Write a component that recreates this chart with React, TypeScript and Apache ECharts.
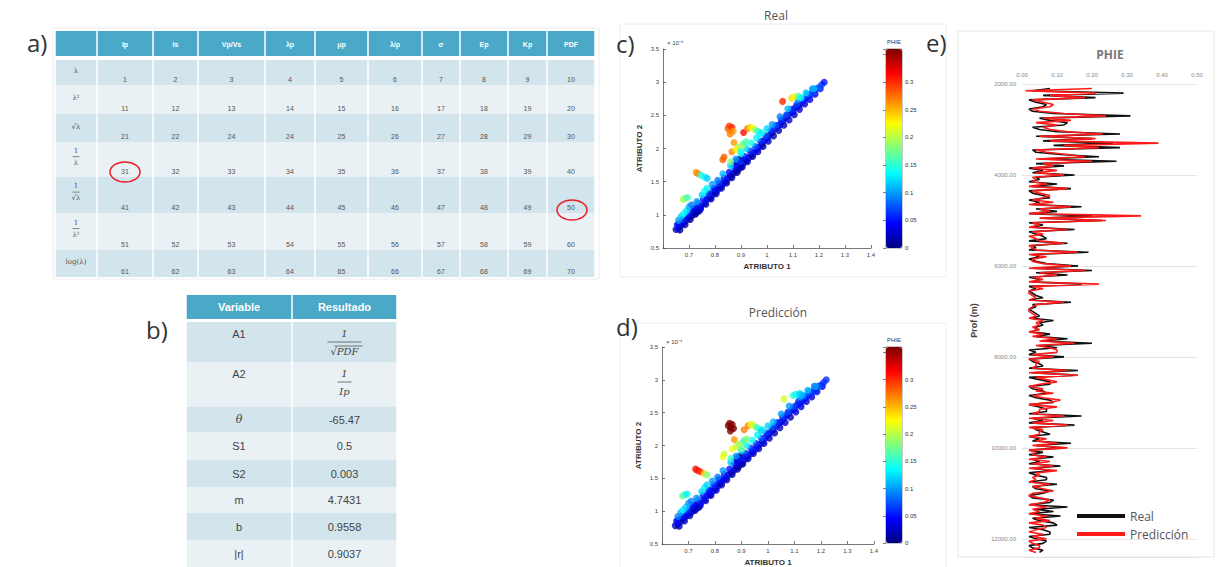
import React, { useEffect, useRef } from "react";
import * as echarts from "echarts";

// ---------------- DATA ----------------
const tableAHeaders = ["Ip", "Is", "Vp/Vs", "λp", "μp", "λ/ρ", "σ", "Ep", "Kp", "PDF"];
const tableARowLabels = ["λ", "λ²", "√λ", "1/λ", "1/√λ", "1/λ²", "log(λ)"];
const tableAValues = [
  [1, 2, 3, 4, 5, 6, 7, 8, 9, 10],
  [11, 12, 13, 14, 15, 16, 17, 18, 19, 20],
  [21, 22, 24, 24, 25, 26, 27, 28, 29, 30],
  [31, 32, 33, 34, 35, 36, 37, 38, 39, 40],
  [41, 42, 43, 44, 45, 46, 47, 48, 49, 50],
  [51, 52, 53, 54, 55, 56, 57, 58, 59, 60],
  [61, 62, 63, 64, 65, 66, 67, 68, 69, 70],
];
const tableBHeaders = ["Variable", "Resultado"];
const tableBVars = ["A1", "A2", "θ", "S1", "S2", "m", "b", "|r|"];
const tableBResults = ["1/√PDF", "1/Ip", "-65.47", "0.5", "0.003", "4.7431", "0.9558", "0.9037"];

// scatter samples: [ATRIBUTO 1, ATRIBUTO 2 (x1e-4), PHIE real, PHIE predicción]
const blueLower = [
  [0.665, 0.77, 0.01, 0.01], [0.685, 0.85, 0.01, 0.02], [0.705, 0.93, 0.0, 0.01], [0.725, 1.01, 0.0, 0.01],
  [0.745, 1.09, 0.01, 0.01], [0.765, 1.16, 0.01, 0.02], [0.785, 1.24, 0.02, 0.01], [0.805, 1.32, 0.01, 0.02],
  [0.825, 1.4, 0.02, 0.02], [0.845, 1.48, 0.01, 0.02], [0.865, 1.56, 0.01, 0.01], [0.885, 1.64, 0.0, 0.01],
  [0.905, 1.72, 0.01, 0.01], [0.925, 1.8, 0.02, 0.02], [0.945, 1.88, 0.01, 0.02], [0.965, 1.95, 0.02, 0.02],
  [0.985, 2.03, 0.02, 0.03], [1.005, 2.11, 0.02, 0.02], [1.025, 2.19, 0.01, 0.02], [1.045, 2.27, 0.02, 0.02],
  [1.065, 2.35, 0.02, 0.03], [1.085, 2.43, 0.03, 0.02], [1.105, 2.51, 0.02, 0.03], [1.125, 2.59, 0.03, 0.03],
  [1.145, 2.67, 0.03, 0.03], [1.165, 2.74, 0.04, 0.03], [1.185, 2.82, 0.04, 0.04], [1.205, 2.9, 0.05, 0.04],
];
const navyClusters = [
  [0.72, 1.05, 0.0, 0.0], [0.73, 1.1, 0.01, 0.0], [0.74, 1.12, 0.0, 0.01], [0.87, 1.76, 0.02, 0.02],
  [0.88, 1.8, 0.01, 0.01], [0.89, 1.83, 0.0, 0.01], [0.9, 1.85, 0.01, 0.0],
];
const blueBand = [
  [0.65, 0.78, 0.02, 0.02], [0.66, 0.8, 0.03, 0.03], [0.66, 0.86, 0.05, 0.04], [0.67, 0.84, 0.02, 0.03],
  [0.68, 0.88, 0.03, 0.02], [0.68, 0.93, 0.06, 0.05], [0.69, 0.92, 0.02, 0.03], [0.7, 0.96, 0.03, 0.04],
  [0.7, 1.02, 0.07, 0.06], [0.71, 0.98, 0.01, 0.02], [0.72, 1.02, 0.02, 0.03], [0.72, 1.08, 0.06, 0.05],
  [0.73, 1.04, 0.01, 0.02], [0.74, 1.06, 0.02, 0.02], [0.745, 1.12, 0.04, 0.05], [0.76, 1.18, 0.03, 0.03],
  [0.77, 1.24, 0.04, 0.04], [0.78, 1.25, 0.02, 0.03], [0.78, 1.32, 0.06, 0.06], [0.79, 1.3, 0.03, 0.04],
  [0.8, 1.34, 0.02, 0.03], [0.8, 1.4, 0.07, 0.06], [0.81, 1.38, 0.03, 0.03], [0.82, 1.42, 0.02, 0.02],
  [0.82, 1.48, 0.06, 0.05], [0.83, 1.46, 0.03, 0.04], [0.84, 1.5, 0.02, 0.03], [0.85, 1.55, 0.03, 0.03],
  [0.86, 1.58, 0.02, 0.02], [0.87, 1.62, 0.01, 0.02], [0.88, 1.66, 0.02, 0.02], [0.89, 1.68, 0.01, 0.01],
  [0.89, 1.74, 0.02, 0.03], [0.9, 1.72, 0.02, 0.02], [0.91, 1.78, 0.03, 0.03], [0.92, 1.82, 0.02, 0.03],
  [0.93, 1.86, 0.03, 0.03], [0.94, 1.9, 0.02, 0.03], [0.95, 1.94, 0.03, 0.04], [0.96, 1.98, 0.04, 0.04],
  [0.97, 2.02, 0.03, 0.03], [0.98, 2.06, 0.02, 0.03], [0.99, 2.12, 0.03, 0.04], [1.0, 2.16, 0.04, 0.04],
  [1.01, 2.2, 0.03, 0.03], [1.02, 2.24, 0.02, 0.03], [1.03, 2.3, 0.03, 0.04], [1.04, 2.34, 0.04, 0.04],
  [1.05, 2.36, 0.03, 0.03], [1.06, 2.42, 0.02, 0.03], [1.07, 2.46, 0.03, 0.04], [1.08, 2.5, 0.02, 0.03],
  [1.09, 2.54, 0.03, 0.04], [1.1, 2.56, 0.04, 0.04], [1.11, 2.62, 0.03, 0.04], [1.12, 2.64, 0.04, 0.05],
  [1.13, 2.68, 0.03, 0.04], [1.14, 2.72, 0.05, 0.05], [1.15, 2.76, 0.04, 0.05], [1.16, 2.8, 0.05, 0.06],
  [1.17, 2.82, 0.06, 0.06], [1.18, 2.86, 0.07, 0.06], [1.19, 2.9, 0.06, 0.07], [1.2, 2.92, 0.08, 0.07],
  [1.21, 2.96, 0.07, 0.06], [1.22, 3.0, 0.05, 0.06],
];
const blueUpper = [
  [0.655, 0.85, 0.05, 0.05], [0.675, 0.93, 0.06, 0.05], [0.695, 1.01, 0.05, 0.06], [0.715, 1.09, 0.04, 0.05],
  [0.735, 1.17, 0.06, 0.06], [0.755, 1.24, 0.05, 0.05], [0.775, 1.32, 0.06, 0.05], [0.795, 1.4, 0.05, 0.06],
  [0.815, 1.48, 0.06, 0.05], [0.835, 1.56, 0.05, 0.05], [0.855, 1.64, 0.04, 0.05], [0.875, 1.72, 0.05, 0.04],
  [0.895, 1.8, 0.06, 0.05], [0.915, 1.88, 0.05, 0.06], [0.935, 1.96, 0.06, 0.06], [0.955, 2.03, 0.07, 0.06],
  [0.975, 2.11, 0.06, 0.07], [0.995, 2.19, 0.07, 0.06], [1.015, 2.27, 0.06, 0.07], [1.035, 2.35, 0.07, 0.06],
  [1.055, 2.43, 0.06, 0.06], [1.075, 2.51, 0.07, 0.07], [1.095, 2.59, 0.06, 0.07], [1.115, 2.67, 0.07, 0.06],
  [1.135, 2.75, 0.08, 0.07], [1.155, 2.82, 0.08, 0.08], [1.175, 2.9, 0.09, 0.08],
];
const cyanBand = [
  [0.66, 0.92, 0.1, 0.09], [0.67, 0.98, 0.12, 0.11], [0.68, 1.02, 0.14, 0.13], [0.69, 1.06, 0.13, 0.12],
  [0.7, 1.12, 0.11, 0.1], [0.71, 1.15, 0.09, 0.09], [0.73, 1.2, 0.1, 0.1], [0.75, 1.3, 0.12, 0.12],
  [0.76, 1.36, 0.14, 0.13], [0.77, 1.4, 0.13, 0.12], [0.79, 1.46, 0.1, 0.1], [0.81, 1.52, 0.09, 0.09],
  [0.83, 1.62, 0.11, 0.1], [0.86, 1.74, 0.12, 0.11], [0.88, 1.84, 0.1, 0.1], [0.9, 1.92, 0.13, 0.12],
  [0.92, 2.0, 0.12, 0.13], [0.94, 2.08, 0.14, 0.14], [0.96, 2.16, 0.13, 0.13], [0.98, 2.24, 0.15, 0.14],
  [1.0, 2.3, 0.12, 0.12], [1.02, 2.36, 0.1, 0.11], [1.05, 2.48, 0.09, 0.1], [1.08, 2.6, 0.11, 0.1],
  [1.12, 2.74, 0.1, 0.1], [1.15, 2.84, 0.12, 0.11], [1.18, 2.9, 0.11, 0.1],
];
const warmPoints = [
  [0.677, 1.23, 0.2, 0.17], [0.685, 1.25, 0.18, 0.16], [0.695, 1.26, 0.16, 0.13], [0.727, 1.64, 0.26, 0.31],
  [0.735, 1.62, 0.27, 0.31], [0.745, 1.6, 0.15, 0.3], [0.76, 1.57, 0.13, 0.24], [0.77, 1.55, 0.12, 0.18],
  [0.83, 1.83, 0.28, 0.22], [0.835, 1.87, 0.28, 0.21], [0.86, 1.8, 0.18, 0.15], [0.865, 1.95, 0.27, 0.22],
  [0.873, 2.09, 0.26, 0.26], [0.905, 2.05, 0.21, 0.17], [0.91, 2.08, 0.17, 0.16], [0.85, 2.3, 0.28, 0.37],
  [0.855, 2.34, 0.29, 0.38], [0.86, 2.27, 0.27, 0.36], [0.865, 2.32, 0.3, 0.38], [0.87, 2.26, 0.26, 0.37],
  [0.858, 2.22, 0.27, 0.36], [0.91, 2.24, 0.31, 0.27], [0.925, 2.3, 0.27, 0.27], [0.935, 2.32, 0.24, 0.23],
  [0.945, 2.31, 0.22, 0.21], [0.955, 2.28, 0.19, 0.17], [0.965, 2.26, 0.15, 0.15], [0.975, 2.22, 0.13, 0.12],
  [1.06, 2.71, 0.3, 0.21], [1.095, 2.76, 0.24, 0.15], [1.105, 2.78, 0.22, 0.14], [1.12, 2.79, 0.17, 0.12],
  [1.13, 2.77, 0.14, 0.11], [0.89, 2.02, 0.19, 0.19], [0.92, 2.1, 0.16, 0.18], [0.88, 1.98, 0.23, 0.2],
  [0.9, 1.95, 0.14, 0.18],
];

// PHIE log, sampled every 50 m starting at 2100 m
const logDepthStart = 2100;
const logDepthStep = 50;
const phieReal = [
  0.08, 0.03, 0.29, 0.06, 0.21, 0.02, 0.04, 0.07, 0.06, 0.02, 0.03, 0.09, 0.31, 0.05, 0.08, 0.13, 0.12, 0.03, 0.05, 0.1,
  0.28, 0.04, 0.2, 0.06, 0.26, 0.09, 0.28, 0.03, 0.04, 0.11, 0.22, 0.05, 0.27, 0.04, 0.12, 0.02, 0.06, 0.03, 0.15, 0.04,
  0.05, 0.02, 0.1, 0.03, 0.14, 0.02, 0.03, 0.06, 0.08, 0.02, 0.05, 0.03, 0.17, 0.04, 0.1, 0.02, 0.2, 0.06, 0.23, 0.02,
  0.06, 0.03, 0.15, 0.02, 0.04, 0.06, 0.07, 0.02, 0.13, 0.03, 0.04, 0.02, 0.19, 0.03, 0.05, 0.02, 0.04, 0.07, 0.16, 0.03,
  0.2, 0.04, 0.13, 0.02, 0.05, 0.03, 0.17, 0.02, 0.04, 0.02, 0.03, 0.04, 0.06, 0.02, 0.14, 0.03, 0.04, 0.02, 0.03, 0.04,
  0.05, 0.03, 0.09, 0.05, 0.06, 0.04, 0.04, 0.03, 0.08, 0.04, 0.13, 0.06, 0.2, 0.05, 0.1, 0.02, 0.04, 0.02, 0.12, 0.02,
  0.03, 0.05, 0.06, 0.02, 0.16, 0.03, 0.15, 0.02, 0.05, 0.08, 0.08, 0.02, 0.03, 0.06, 0.07, 0.02, 0.04, 0.08, 0.09, 0.02,
  0.05, 0.07, 0.07, 0.02, 0.17, 0.03, 0.06, 0.02, 0.15, 0.03, 0.04, 0.06, 0.08, 0.02, 0.05, 0.03, 0.14, 0.04, 0.12, 0.02,
  0.06, 0.02, 0.09, 0.03, 0.05, 0.02, 0.11, 0.03, 0.08, 0.02, 0.04, 0.07, 0.07, 0.02, 0.1, 0.03, 0.04, 0.08, 0.06, 0.02,
  0.03, 0.09, 0.08, 0.02, 0.13, 0.04, 0.09, 0.02, 0.11, 0.03, 0.05, 0.09, 0.1, 0.02, 0.06, 0.08, 0.08, 0.02, 0.04, 0.07,
  0.06, 0.02, 0.03, 0.06, 0.05,
];
const phiePred = [
  0.2, 0.01, 0.21, 0.08, 0.18, 0.03, 0.06, 0.09, 0.08, 0.03, 0.05, 0.12, 0.24, 0.06, 0.14, 0.04, 0.1, 0.06, 0.08, 0.13,
  0.23, 0.05, 0.21, 0.08, 0.39, 0.12, 0.22, 0.04, 0.07, 0.13, 0.18, 0.04, 0.2, 0.06, 0.09, 0.03, 0.1, 0.04, 0.12, 0.03,
  0.04, 0.03, 0.07, 0.02, 0.13, 0.03, 0.05, 0.08, 0.06, 0.03, 0.09, 0.02, 0.14, 0.05, 0.08, 0.02, 0.34, 0.05, 0.24, 0.03,
  0.05, 0.02, 0.13, 0.03, 0.06, 0.02, 0.04, 0.05, 0.12, 0.02, 0.03, 0.04, 0.16, 0.02, 0.07, 0.03, 0.03, 0.06, 0.14, 0.02,
  0.18, 0.05, 0.1, 0.03, 0.06, 0.02, 0.22, 0.03, 0.06, 0.02, 0.02, 0.03, 0.04, 0.02, 0.12, 0.04, 0.03, 0.02, 0.02, 0.03,
  0.04, 0.02, 0.06, 0.04, 0.05, 0.03, 0.05, 0.02, 0.06, 0.03, 0.1, 0.05, 0.15, 0.04, 0.08, 0.1, 0.1, 0.03, 0.09, 0.02,
  0.05, 0.04, 0.04, 0.03, 0.13, 0.02, 0.16, 0.04, 0.07, 0.1, 0.05, 0.02, 0.06, 0.04, 0.09, 0.03, 0.06, 0.11, 0.08, 0.02,
  0.1, 0.05, 0.05, 0.03, 0.12, 0.02, 0.09, 0.03, 0.13, 0.02, 0.06, 0.05, 0.05, 0.02, 0.07, 0.04, 0.1, 0.03, 0.13, 0.02,
  0.04, 0.03, 0.07, 0.02, 0.08, 0.03, 0.09, 0.02, 0.1, 0.04, 0.05, 0.03, 0.04, 0.02, 0.08, 0.03, 0.06, 0.09, 0.03, 0.02,
  0.05, 0.08, 0.06, 0.02, 0.07, 0.03, 0.05, 0.02, 0.07, 0.04, 0.08, 0.02, 0.06, 0.07, 0.04, 0.02, 0.06, 0.03, 0.07, 0.02,
  0.03, 0.05, 0.05, 0.02, 0.04,
];
const colorbarTicks = [0, 0.05, 0.1, 0.15, 0.2, 0.25, 0.3];

// ---------------- LAYOUT / STYLE ----------------
const jet = ["#00007F", "#0000FF", "#007FFF", "#00FFFF", "#7FFF7F", "#FFFF00", "#FF7F00", "#FF0000", "#7F0000"];
const teal = "#4AA9C7";
const rowDark = "#D2E4EC";
const rowLight = "#E9F1F5";
const colAX = [55, 97, 153, 198, 265, 315, 368, 422, 460, 508, 547, 595];
const rowAY = [60, 85, 114, 142, 177, 213, 250, 277];
const colBX = [186, 292, 397];
const rowBY = [322, 362, 407, 432, 460, 487, 513, 540, 567];

function txt(x: number, y: number, text: string, font: string, fill: string, align = "center", valign = "middle") {
  return {
    type: "text",
    x,
    y,
    silent: true,
    style: { text, font, fill, align, verticalAlign: valign, textAlign: align, textVerticalAlign: valign },
  };
}
function line(x1: number, y1: number, x2: number, y2: number, stroke: string, lineWidth = 1) {
  return { type: "line", silent: true, shape: { x1, y1, x2, y2 }, style: { stroke, lineWidth } };
}
function rect(x: number, y: number, width: number, height: number, fill: string, stroke?: string) {
  return {
    type: "rect",
    silent: true,
    shape: { x, y, width, height },
    style: stroke ? { fill, stroke, lineWidth: 1 } : { fill },
  };
}
function fraction(cx: number, cy: number, den: string, font: string, fill: string, gap: number, barW: number) {
  return [
    txt(cx, cy - gap, "1", font, fill),
    line(cx - barW / 2, cy, cx + barW / 2, cy, fill, 0.7),
    txt(cx, cy + gap, den, font, fill),
  ];
}

function buildGraphics() {
  const g: any[] = [];
  g.push(rect(53, 28, 546, 251, "none", "#ececec"));
  g.push(rect(620, 24, 326, 253, "none", "#ececec"));
  g.push(rect(620, 323, 326, 250, "none", "#ececec"));
  g.push(rect(958, 31, 256, 526, "none", "#e6e6e6"));

  const letterFont = '500 24px "Open Sans"';
  g.push(txt(27, 42, "a)", letterFont, "#333", "left"));
  g.push(txt(146, 329, "b)", letterFont, "#333", "left"));
  g.push(txt(616, 43, "c)", letterFont, "#333", "left"));
  g.push(txt(616, 326, "d)", letterFont, "#333", "left"));
  g.push(txt(926, 42, "e)", letterFont, "#333", "left"));

  // ---- table a ----
  for (let c = 0; c < colAX.length - 1; c++) {
    g.push(rect(colAX[c] + 0.75, 31, colAX[c + 1] - colAX[c] - 1.5, 25, teal));
    if (c > 0) {
      g.push(txt((colAX[c] + colAX[c + 1]) / 2, 44, tableAHeaders[c - 1], 'bold 7px "Liberation Sans"', "#ffffff"));
    }
  }
  const smallFont = '7px "DejaVu Serif"';
  for (let r = 0; r < tableAValues.length; r++) {
    const top = rowAY[r];
    const bottom = rowAY[r + 1];
    const fill = r % 2 === 0 ? rowDark : rowLight;
    for (let c = 0; c < colAX.length - 1; c++) {
      g.push(rect(colAX[c] + 0.75, top, colAX[c + 1] - colAX[c] - 1.5, bottom - top, fill));
    }
    const lab = tableARowLabels[r];
    const cx = (colAX[0] + colAX[1]) / 2;
    if (lab.startsWith("1/")) {
      const midY = top + (bottom - top) * 0.42;
      g.push(...fraction(cx, midY, lab.slice(2), smallFont, "#555", 6, 7));
    } else {
      g.push(txt(cx, top + (bottom - top) * 0.45, lab, smallFont, "#555"));
    }
    for (let c = 0; c < tableAValues[r].length; c++) {
      g.push(
        txt((colAX[c + 1] + colAX[c + 2]) / 2, bottom - 6, String(tableAValues[r][c]), '7px "Liberation Sans"', "#555")
      );
    }
  }
  g.push({ type: "ellipse", silent: true, shape: { cx: 125, cy: 172, rx: 15, ry: 10 }, style: { fill: "none", stroke: "#e8202a", lineWidth: 1.5 } });
  g.push({ type: "ellipse", silent: true, shape: { cx: 572, cy: 210, rx: 15, ry: 10 }, style: { fill: "none", stroke: "#e8202a", lineWidth: 1.5 } });

  // ---- table b ----
  for (let c = 0; c < 2; c++) {
    g.push(rect(colBX[c] + 0.75, 295, colBX[c + 1] - colBX[c] - 1.5, 24, teal));
    g.push(txt((colBX[c] + colBX[c + 1]) / 2, 307, tableBHeaders[c], 'bold 11px "Liberation Sans"', "#ffffff"));
  }
  const bFont = '11px "Liberation Sans"';
  for (let r = 0; r < tableBVars.length; r++) {
    const top = rowBY[r];
    const bottom = rowBY[r + 1];
    const fill = r % 2 === 0 ? rowDark : rowLight;
    for (let c = 0; c < 2; c++) {
      g.push(rect(colBX[c] + 0.75, top, colBX[c + 1] - colBX[c] - 1.5, bottom - top, fill));
    }
    const cx0 = (colBX[0] + colBX[1]) / 2;
    const cx1 = (colBX[1] + colBX[2]) / 2;
    const res = tableBResults[r];
    if (res.startsWith("1/")) {
      g.push(txt(cx0, top + 12, tableBVars[r], bFont, "#444"));
      const den = res.slice(2);
      g.push(...fraction(cx1, top + 20, den, 'italic 10px "DejaVu Serif"', "#444", 9, den.length > 3 ? 34 : 14));
      if (den.startsWith("√")) g.push(line(cx1 - 10, top + 24, cx1 + 18, top + 24, "#444", 0.7));
    } else {
      const fontV = tableBVars[r] === "θ" ? 'italic 11px "DejaVu Serif"' : bFont;
      g.push(txt(cx0, (top + bottom) / 2, tableBVars[r], fontV, "#444"));
      g.push(txt(cx1, (top + bottom) / 2, res, bFont, "#444"));
    }
  }

  const tFont = '12px "Open Sans"';
  g.push(txt(776, 15, "Real", tFont, "#555"));
  g.push(txt(778, 312, "Predicción", tFont, "#555"));
  g.push(txt(667, 43, "× 10⁻⁴", '6px "Liberation Sans"', "#444", "left"));
  g.push(txt(666, 342, "× 10⁻⁴", '6px "Liberation Sans"', "#444", "left"));
  g.push(txt(894, 42, "PHIE", '6px "Liberation Sans"', "#333"));
  g.push(txt(894, 340, "PHIE", '6px "Liberation Sans"', "#333"));
  g.push(txt(1110, 54, "PHIE", 'bold 12px "Open Sans"', "#777"));
  return g;
}

function scatterAxes(gridIndex: number) {
  const axisLine = { show: true, lineStyle: { color: "#555", width: 0.8 } };
  const tick = { show: true, inside: true, length: 3, lineStyle: { color: "#555", width: 0.8 } };
  const label = { fontSize: 6, color: "#444", fontFamily: "Liberation Sans" };
  return {
    x: {
      type: "value",
      gridIndex,
      min: 0.6,
      max: 1.4,
      interval: 0.1,
      name: "ATRIBUTO 1",
      nameLocation: "middle",
      nameGap: 14,
      nameTextStyle: { fontSize: 8, fontWeight: "bold", color: "#333", fontFamily: "Liberation Sans" },
      axisLine,
      axisTick: tick,
      splitLine: { show: false },
      axisLabel: {
        ...label,
        margin: 4,
        formatter: (v: number) => (Math.abs(v - 0.6) < 1e-6 ? "" : String(+v.toFixed(1))),
      },
    },
    y: {
      type: "value",
      gridIndex,
      min: 0.5,
      max: 3.5,
      interval: 0.5,
      name: "ATRIBUTO 2",
      nameLocation: "middle",
      nameGap: 20,
      nameTextStyle: { fontSize: 8, fontWeight: "bold", color: "#333", fontFamily: "Liberation Sans" },
      axisLine,
      axisTick: tick,
      splitLine: { show: false },
      axisLabel: { ...label, margin: 4, formatter: (v: number) => String(+v.toFixed(1)) },
    },
  };
}

function colorbarAxes(gridIndex: number) {
  return {
    x: { type: "value", gridIndex, show: false, min: 0, max: 1 },
    y: {
      type: "value",
      gridIndex,
      position: "right",
      min: 0,
      max: 0.36,
      interval: 0.05,
      axisLine: { show: false },
      axisTick: { show: true, inside: true, length: 3, lineStyle: { color: "#333", width: 0.6 } },
      splitLine: { show: false },
      axisLabel: {
        fontSize: 6,
        color: "#333",
        margin: 3,
        fontFamily: "Liberation Sans",
        formatter: (v: number) => {
          const t = colorbarTicks.find((k) => Math.abs(k - v) < 1e-6);
          return t === undefined ? "" : String(t);
        },
      },
    },
  };
}

export default function App() {
  const ref = useRef<HTMLDivElement>(null);
  useEffect(() => {
    if (!ref.current) return;
    const chart = echarts.init(ref.current, undefined, { renderer: "svg" });
    const sc = scatterAxes(0);
    const sd = scatterAxes(1);
    const cb1 = colorbarAxes(3);
    const cb2 = colorbarAxes(4);

    const allPts = [...blueLower, ...navyClusters, ...blueBand, ...blueUpper, ...cyanBand, ...warmPoints];
    const realPts = allPts.map((p) => [p[0], p[1], p[2]]);
    const predPts = allPts.map((p) => [p[0], p[1], p[3]]);
    const depths = phieReal.map((_, i) => logDepthStart + i * logDepthStep);
    const realLog = phieReal.map((v, i) => [v, depths[i]]);
    const predLog = phiePred.map((v, i) => [v, depths[i]]);

    chart.setOption({
      animation: false,
      backgroundColor: "#ffffff",
      textStyle: { fontFamily: "Liberation Sans" },
      grid: [
        { left: 663, top: 49, width: 208, height: 199 },
        { left: 662, top: 347, width: 212, height: 197 },
        { left: 1022, top: 84, width: 175, height: 473 },
        { left: 886, top: 49, width: 16, height: 199, show: true, borderColor: "#444", borderWidth: 0.6, backgroundColor: "transparent" },
        { left: 886, top: 347, width: 16, height: 196, show: true, borderColor: "#444", borderWidth: 0.6, backgroundColor: "transparent" },
      ],
      xAxis: [
        sc.x,
        sd.x,
        {
          type: "value",
          gridIndex: 2,
          position: "top",
          min: 0,
          max: 0.5,
          interval: 0.1,
          axisLine: { show: false },
          axisTick: { show: false },
          splitLine: { show: false },
          axisLabel: { fontSize: 6, color: "#888", margin: 6, formatter: (v: number) => v.toFixed(2) },
        },
        cb1.x,
        cb2.x,
      ],
      yAxis: [
        sc.y,
        sd.y,
        {
          type: "value",
          gridIndex: 2,
          inverse: true,
          min: 2000,
          max: 12400,
          interval: 2000,
          name: "Prof (m)",
          nameLocation: "middle",
          nameGap: 44,
          nameTextStyle: { fontSize: 9, fontWeight: "bold", color: "#444" },
          axisLine: { show: false },
          axisTick: { show: false },
          splitLine: { show: true, lineStyle: { color: "#e4e4e4", width: 1 } },
          axisLabel: {
            fontSize: 6,
            color: "#888",
            margin: 6,
            formatter: (v: number) => (v % 2000 === 0 ? v.toFixed(2) : ""),
          },
        },
        cb1.y,
        cb2.y,
      ],
      visualMap: [
        {
          type: "continuous",
          seriesIndex: 0,
          dimension: 2,
          min: 0,
          max: 0.36,
          calculable: false,
          hoverLink: false,
          left: 886,
          top: 49,
          padding: 0,
          itemWidth: 16,
          itemHeight: 199,
          inRange: { color: jet },
        },
        {
          type: "continuous",
          seriesIndex: 1,
          dimension: 2,
          min: 0,
          max: 0.36,
          calculable: false,
          hoverLink: false,
          left: 886,
          top: 347,
          padding: 0,
          itemWidth: 16,
          itemHeight: 196,
          inRange: { color: jet },
        },
      ],
      legend: {
        data: ["Real", "Predicción"],
        orient: "vertical",
        left: 1077,
        top: 510,
        padding: 0,
        itemWidth: 48,
        itemHeight: 4,
        itemGap: 6,
        icon: "rect",
        textStyle: { fontSize: 12, color: "#555", fontFamily: "Open Sans" },
      },
      series: [
        { name: "PHIE real", type: "scatter", xAxisIndex: 0, yAxisIndex: 0, symbolSize: 7, data: realPts },
        { name: "PHIE predicción", type: "scatter", xAxisIndex: 1, yAxisIndex: 1, symbolSize: 7, data: predPts },
        {
          name: "Real",
          type: "line",
          xAxisIndex: 2,
          yAxisIndex: 2,
          showSymbol: false,
          data: realLog,
          itemStyle: { color: "#111111" },
          lineStyle: { color: "#111111", width: 1.6 },
        },
        {
          name: "Predicción",
          type: "line",
          xAxisIndex: 2,
          yAxisIndex: 2,
          showSymbol: false,
          data: predLog,
          itemStyle: { color: "#ff1a1a" },
          lineStyle: { color: "#ff1a1a", width: 1.6 },
        },
      ],
      graphic: { elements: buildGraphics() },
    });
    return () => chart.dispose();
  }, []);
  return (
    <div
      ref={ref}
      style={{ position: "fixed", left: 0, top: 0, width: 1223, height: 567, background: "#fff" }}
    />
  );
}
